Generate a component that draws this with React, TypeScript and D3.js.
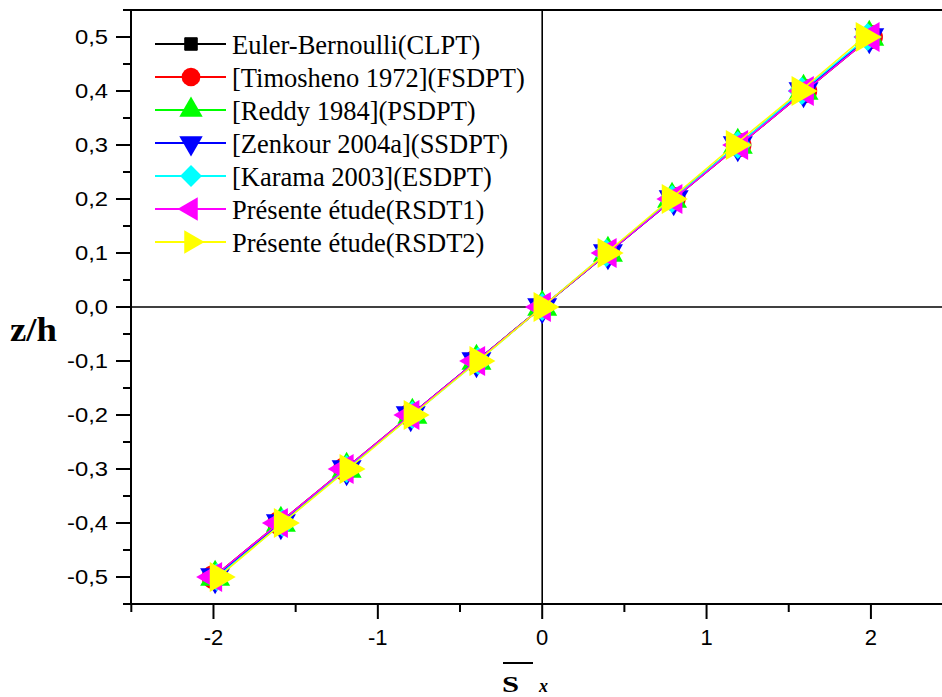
import React from "react";
import * as d3 from "d3";

const zValues = [-0.5, -0.4, -0.3, -0.2, -0.1, 0.0, 0.1, 0.2, 0.3, 0.4, 0.5];
const clpt = [-2.0, -1.6, -1.2, -0.8, -0.4, 0.0, 0.4, 0.8, 1.2, 1.6, 2.0];
const fsdpt = [-2.0, -1.6, -1.2, -0.8, -0.4, 0.0, 0.4, 0.8, 1.2, 1.6, 2.0];
const psdpt = [-1.99, -1.59, -1.19, -0.79, -0.4, 0.0, 0.4, 0.79, 1.19, 1.59, 1.99];
const ssdpt = [-1.99, -1.59, -1.19, -0.8, -0.4, 0.0, 0.4, 0.8, 1.19, 1.59, 1.99];
const esdpt = [-1.98, -1.58, -1.19, -0.79, -0.39, 0.0, 0.39, 0.79, 1.19, 1.58, 1.98];
const rsdt1 = [-2.0, -1.6, -1.2, -0.8, -0.4, 0.0, 0.4, 0.8, 1.2, 1.6, 2.0];
const rsdt2 = [-1.97, -1.58, -1.18, -0.79, -0.39, 0.0, 0.39, 0.78, 1.17, 1.57, 1.96];

const seriesNames = [
  "Euler-Bernoulli(CLPT)",
  "[Timosheno 1972](FSDPT)",
  "[Reddy 1984](PSDPT)",
  "[Zenkour 2004a](SSDPT)",
  "[Karama 2003](ESDPT)",
  "Présente étude(RSDT1)",
  "Présente étude(RSDT2)",
];
const seriesValues = [clpt, fsdpt, psdpt, ssdpt, esdpt, rsdt1, rsdt2];
const seriesColors = ["#000000", "#ff0000", "#00ff00", "#0000ff", "#00ffff", "#ff00ff", "#ffff00"];
const seriesShapes = ["square", "circle", "up", "down", "diamond", "left", "right"];

const xMajorTicks = [-2, -1, 0, 1, 2];
const xMinorTicks = [-2.5, -1.5, -0.5, 0.5, 1.5, 2.5];
const yMajorTicks = [-0.5, -0.4, -0.3, -0.2, -0.1, 0.0, 0.1, 0.2, 0.3, 0.4, 0.5];
const yMinorTicks = [-0.55, -0.45, -0.35, -0.25, -0.15, -0.05, 0.05, 0.15, 0.25, 0.35, 0.45, 0.55];

function markerPath(shape: string, s: number): string {
  const w = 26 * s;
  const b = 15 * s;
  const a = w / 3;
  switch (shape) {
    case "square": {
      const h = 8 * s;
      return `M${-h},${-h}L${h},${-h}L${h},${h}L${-h},${h}Z`;
    }
    case "circle": {
      const r = 12 * s;
      return `M${-r},0A${r},${r} 0 1,0 ${r},0A${r},${r} 0 1,0 ${-r},0Z`;
    }
    case "up":
      return `M0,${-(w - a)}L${b},${a}L${-b},${a}Z`;
    case "down":
      return `M0,${w - a}L${b},${-a}L${-b},${-a}Z`;
    case "left":
      return `M${-(w - a)},0L${a},${-b}L${a},${b}Z`;
    case "right":
      return `M${w - a},0L${-a},${-b}L${-a},${b}Z`;
    case "diamond": {
      const d = 14 * s;
      return `M0,${-d}L${d},0L0,${d}L${-d},0Z`;
    }
  }
  return "";
}

export default function App() {
  const W = 942;
  const H = 697;
  const left = 131;
  const top = 10;
  const bottom = 604;
  const x = d3.scaleLinear().domain([-2.5, 2.5]).range([131.3, 953.1]);
  const y = d3.scaleLinear().domain([-0.55, 0.55]).range([bottom, top]);
  const line = d3
    .line<[number, number]>()
    .x((d) => x(d[0]))
    .y((d) => y(d[1]));
  const fmt = (v: number) => d3.format(".1f")(v).replace(".", ",").replace("−", "-");

  const tickFont = "'Liberation Sans', Arial, sans-serif";
  const serif = "'Liberation Serif', 'Times New Roman', serif";

  return (
    <svg
      width={W}
      height={H}
      style={{ position: "absolute", left: 0, top: 0, background: "#fff" }}
    >
      <rect x={0} y={0} width={W} height={H} fill="#fff" />
      <line x1={x(0)} x2={x(0)} y1={top} y2={bottom} stroke="#000" strokeWidth={1.6} />
      <line x1={left} x2={W} y1={y(0)} y2={y(0)} stroke="#000" strokeWidth={1.6} />

      {seriesValues.map((vals, i) => {
        const pts: [number, number][] = vals.map((v, j) => [v, zValues[j]]);
        return (
          <g key={i}>
            <path d={line(pts) || ""} fill="none" stroke={seriesColors[i]} strokeWidth={1.6} />
            {pts.map((p, j) => (
              <path
                key={j}
                d={markerPath(seriesShapes[i], 1)}
                transform={`translate(${x(p[0])},${y(p[1])})`}
                fill={seriesColors[i]}
                stroke={i === 0 ? "#000" : "none"}
              />
            ))}
          </g>
        );
      })}

      <line x1={left} x2={W} y1={top} y2={top} stroke="#000" strokeWidth={2} />
      <line x1={left} x2={W} y1={bottom} y2={bottom} stroke="#000" strokeWidth={2} />
      <line x1={left} x2={left} y1={top} y2={bottom} stroke="#000" strokeWidth={2} />

      {xMajorTicks.map((t) => (
        <g key={"xm" + t}>
          <line x1={x(t)} x2={x(t)} y1={bottom} y2={bottom + 15} stroke="#000" strokeWidth={2} />
          <text
            x={x(t)}
            y={bottom + 41}
            textAnchor="middle"
            fontFamily={tickFont}
            fontSize={22}
            fill="#000"
          >
            {String(t).replace("−", "-")}
          </text>
        </g>
      ))}
      {xMinorTicks.map((t) => (
        <line key={"xn" + t} x1={x(t)} x2={x(t)} y1={bottom} y2={bottom + 8} stroke="#000" strokeWidth={2} />
      ))}

      {yMajorTicks.map((t) => (
        <g key={"ym" + t}>
          <line x1={left - 15} x2={left} y1={y(t)} y2={y(t)} stroke="#000" strokeWidth={2} />
          <g transform={`translate(108,${y(t) + 7}) scale(1.19,1)`}>
            <text x={0} y={0} textAnchor="end" fontFamily={tickFont} fontSize={20} fill="#000">
              {fmt(t)}
            </text>
          </g>
        </g>
      ))}
      {yMinorTicks.map((t) => (
        <line key={"yn" + t} x1={left - 8} x2={left} y1={y(t)} y2={y(t)} stroke="#000" strokeWidth={2} />
      ))}

      <g transform="translate(10,341) scale(1.08,1)">
        <text x={0} y={0} fontFamily={serif} fontWeight="bold" fontSize={34} fill="#000">
          z/h
        </text>
      </g>
      <line x1={503} x2={533} y1={663} y2={663} stroke="#000" strokeWidth={2} />
      <g transform="translate(502,691.5) scale(1.28,1)">
        <text x={0} y={0} fontFamily={serif} fontWeight="bold" fontSize={24} fill="#000">
          S
        </text>
      </g>
      <text x={539} y={691.5} fontFamily={serif} fontWeight="bold" fontStyle="italic" fontSize={18} fill="#000">
        x
      </text>

      {seriesNames.map((name, i) => {
        const ly = 44 + i * 33;
        return (
          <g key={"lg" + i}>
            <line x1={155} x2={226} y1={ly} y2={ly} stroke={seriesColors[i]} strokeWidth={2} />
            <path
              d={markerPath(seriesShapes[i], 0.78)}
              transform={`translate(${191},${ly})`}
              fill={seriesColors[i]}
              stroke={i === 0 ? "#000" : "none"}
            />
            <text x={232} y={ly + 9.5} fontFamily={serif} fontSize={26.5} fill="#000">
              {name}
            </text>
          </g>
        );
      })}
    </svg>
  );
}
